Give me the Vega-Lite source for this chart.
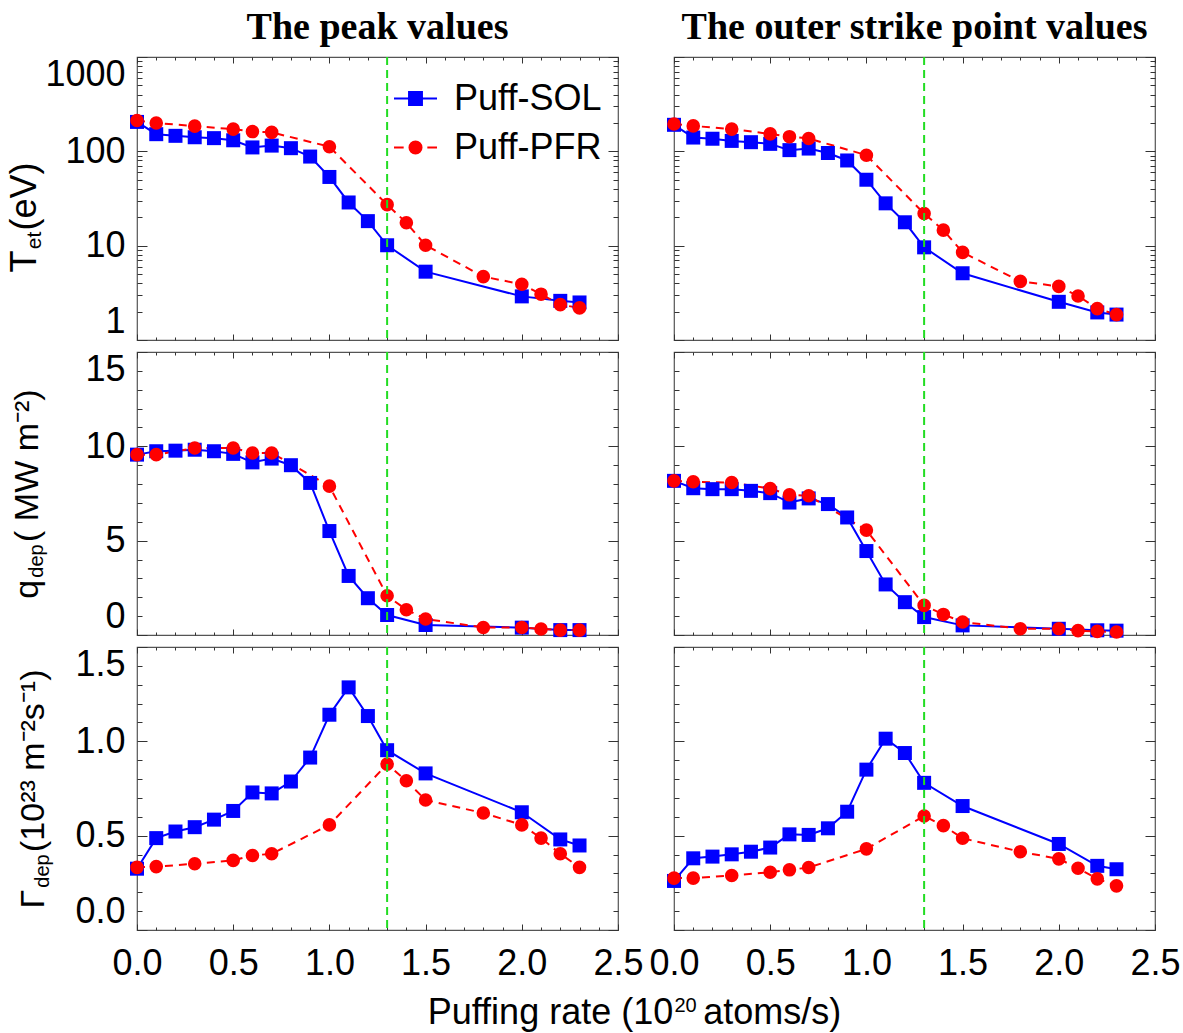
{
  "$schema": "https://vega.github.io/schema/vega-lite/v6.json",
  "background": "white",
  "padding": {"left": 5, "top": 8, "right": 5, "bottom": 5},
  "datasets": {
    "vline": [{"x": 1.3}],
    "Tpeak": [
      {"x":0,"s":"Puff-SOL","v":205},{"x":0.1,"s":"Puff-SOL","v":152},{"x":0.2,"s":"Puff-SOL","v":146},{"x":0.3,"s":"Puff-SOL","v":141},{"x":0.4,"s":"Puff-SOL","v":138},{"x":0.5,"s":"Puff-SOL","v":131},{"x":0.6,"s":"Puff-SOL","v":110},{"x":0.7,"s":"Puff-SOL","v":115},{"x":0.8,"s":"Puff-SOL","v":108},{"x":0.9,"s":"Puff-SOL","v":88},{"x":1.0,"s":"Puff-SOL","v":53.5},{"x":1.1,"s":"Puff-SOL","v":28.7},{"x":1.2,"s":"Puff-SOL","v":18.2},{"x":1.3,"s":"Puff-SOL","v":10.1},{"x":1.5,"s":"Puff-SOL","v":5.3},{"x":2.0,"s":"Puff-SOL","v":2.9},{"x":2.2,"s":"Puff-SOL","v":2.6},{"x":2.3,"s":"Puff-SOL","v":2.5},
      {"x":0,"s":"Puff-PFR","v":212},{"x":0.1,"s":"Puff-PFR","v":200},{"x":0.3,"s":"Puff-PFR","v":185},{"x":0.5,"s":"Puff-PFR","v":172},{"x":0.6,"s":"Puff-PFR","v":162},{"x":0.7,"s":"Puff-PFR","v":159},{"x":1.0,"s":"Puff-PFR","v":112},{"x":1.3,"s":"Puff-PFR","v":27.2},{"x":1.4,"s":"Puff-PFR","v":17.5},{"x":1.5,"s":"Puff-PFR","v":10.1},{"x":1.8,"s":"Puff-PFR","v":4.7},{"x":2.0,"s":"Puff-PFR","v":3.9},{"x":2.1,"s":"Puff-PFR","v":3.06},{"x":2.2,"s":"Puff-PFR","v":2.37},{"x":2.3,"s":"Puff-PFR","v":2.19}
    ],
    "Tosp": [
      {"x":0,"s":"Puff-SOL","v":191},{"x":0.1,"s":"Puff-SOL","v":140},{"x":0.2,"s":"Puff-SOL","v":136},{"x":0.3,"s":"Puff-SOL","v":129},{"x":0.4,"s":"Puff-SOL","v":125},{"x":0.5,"s":"Puff-SOL","v":120},{"x":0.6,"s":"Puff-SOL","v":103},{"x":0.7,"s":"Puff-SOL","v":107},{"x":0.8,"s":"Puff-SOL","v":96},{"x":0.9,"s":"Puff-SOL","v":80},{"x":1.0,"s":"Puff-SOL","v":50},{"x":1.1,"s":"Puff-SOL","v":28.1},{"x":1.2,"s":"Puff-SOL","v":17.7},{"x":1.3,"s":"Puff-SOL","v":9.6},{"x":1.5,"s":"Puff-SOL","v":5.1},{"x":2.0,"s":"Puff-SOL","v":2.54},{"x":2.2,"s":"Puff-SOL","v":1.96},{"x":2.3,"s":"Puff-SOL","v":1.86},
      {"x":0,"s":"Puff-PFR","v":195},{"x":0.1,"s":"Puff-PFR","v":186},{"x":0.3,"s":"Puff-PFR","v":172},{"x":0.5,"s":"Puff-PFR","v":153},{"x":0.6,"s":"Puff-PFR","v":143},{"x":0.7,"s":"Puff-PFR","v":137},{"x":1.0,"s":"Puff-PFR","v":91},{"x":1.3,"s":"Puff-PFR","v":21.9},{"x":1.4,"s":"Puff-PFR","v":14.6},{"x":1.5,"s":"Puff-PFR","v":8.5},{"x":1.8,"s":"Puff-PFR","v":4.18},{"x":2.0,"s":"Puff-PFR","v":3.7},{"x":2.1,"s":"Puff-PFR","v":2.93},{"x":2.2,"s":"Puff-PFR","v":2.15},{"x":2.3,"s":"Puff-PFR","v":1.86}
    ],
    "qpeak": [
      {"x":0,"s":"Puff-SOL","v":9.56},{"x":0.1,"s":"Puff-SOL","v":9.74},{"x":0.2,"s":"Puff-SOL","v":9.77},{"x":0.3,"s":"Puff-SOL","v":9.82},{"x":0.4,"s":"Puff-SOL","v":9.74},{"x":0.5,"s":"Puff-SOL","v":9.6},{"x":0.6,"s":"Puff-SOL","v":9.15},{"x":0.7,"s":"Puff-SOL","v":9.35},{"x":0.8,"s":"Puff-SOL","v":9.0},{"x":0.9,"s":"Puff-SOL","v":8.06},{"x":1.0,"s":"Puff-SOL","v":5.51},{"x":1.1,"s":"Puff-SOL","v":3.13},{"x":1.2,"s":"Puff-SOL","v":1.95},{"x":1.3,"s":"Puff-SOL","v":1.06},{"x":1.5,"s":"Puff-SOL","v":0.53},{"x":2.0,"s":"Puff-SOL","v":0.39},{"x":2.2,"s":"Puff-SOL","v":0.26},{"x":2.3,"s":"Puff-SOL","v":0.26},
      {"x":0,"s":"Puff-PFR","v":9.56},{"x":0.1,"s":"Puff-PFR","v":9.56},{"x":0.3,"s":"Puff-PFR","v":9.91},{"x":0.5,"s":"Puff-PFR","v":9.91},{"x":0.6,"s":"Puff-PFR","v":9.65},{"x":0.7,"s":"Puff-PFR","v":9.65},{"x":1.0,"s":"Puff-PFR","v":7.89},{"x":1.3,"s":"Puff-PFR","v":2.08},{"x":1.4,"s":"Puff-PFR","v":1.34},{"x":1.5,"s":"Puff-PFR","v":0.85},{"x":1.8,"s":"Puff-PFR","v":0.4},{"x":2.0,"s":"Puff-PFR","v":0.4},{"x":2.1,"s":"Puff-PFR","v":0.32},{"x":2.2,"s":"Puff-PFR","v":0.26},{"x":2.3,"s":"Puff-PFR","v":0.26}
    ],
    "qosp": [
      {"x":0,"s":"Puff-SOL","v":8.17},{"x":0.1,"s":"Puff-SOL","v":7.78},{"x":0.2,"s":"Puff-SOL","v":7.73},{"x":0.3,"s":"Puff-SOL","v":7.73},{"x":0.4,"s":"Puff-SOL","v":7.64},{"x":0.5,"s":"Puff-SOL","v":7.52},{"x":0.6,"s":"Puff-SOL","v":7.02},{"x":0.7,"s":"Puff-SOL","v":7.24},{"x":0.8,"s":"Puff-SOL","v":6.94},{"x":0.9,"s":"Puff-SOL","v":6.23},{"x":1.0,"s":"Puff-SOL","v":4.45},{"x":1.1,"s":"Puff-SOL","v":2.68},{"x":1.2,"s":"Puff-SOL","v":1.74},{"x":1.3,"s":"Puff-SOL","v":0.95},{"x":1.5,"s":"Puff-SOL","v":0.51},{"x":2.0,"s":"Puff-SOL","v":0.33},{"x":2.2,"s":"Puff-SOL","v":0.25},{"x":2.3,"s":"Puff-SOL","v":0.23},
      {"x":0,"s":"Puff-PFR","v":8.17},{"x":0.1,"s":"Puff-PFR","v":8.12},{"x":0.3,"s":"Puff-PFR","v":8.08},{"x":0.5,"s":"Puff-PFR","v":7.76},{"x":0.6,"s":"Puff-PFR","v":7.43},{"x":0.7,"s":"Puff-PFR","v":7.38},{"x":1.0,"s":"Puff-PFR","v":5.56},{"x":1.3,"s":"Puff-PFR","v":1.57},{"x":1.4,"s":"Puff-PFR","v":1.09},{"x":1.5,"s":"Puff-PFR","v":0.69},{"x":1.8,"s":"Puff-PFR","v":0.33},{"x":2.0,"s":"Puff-PFR","v":0.33},{"x":2.1,"s":"Puff-PFR","v":0.23},{"x":2.2,"s":"Puff-PFR","v":0.19},{"x":2.3,"s":"Puff-PFR","v":0.16}
    ],
    "Gpeak": [
      {"x":0,"s":"Puff-SOL","v":0.325},{"x":0.1,"s":"Puff-SOL","v":0.487},{"x":0.2,"s":"Puff-SOL","v":0.522},{"x":0.3,"s":"Puff-SOL","v":0.545},{"x":0.4,"s":"Puff-SOL","v":0.585},{"x":0.5,"s":"Puff-SOL","v":0.631},{"x":0.6,"s":"Puff-SOL","v":0.729},{"x":0.7,"s":"Puff-SOL","v":0.724},{"x":0.8,"s":"Puff-SOL","v":0.787},{"x":0.9,"s":"Puff-SOL","v":0.914},{"x":1.0,"s":"Puff-SOL","v":1.141},{"x":1.1,"s":"Puff-SOL","v":1.286},{"x":1.2,"s":"Puff-SOL","v":1.134},{"x":1.3,"s":"Puff-SOL","v":0.953},{"x":1.5,"s":"Puff-SOL","v":0.83},{"x":2.0,"s":"Puff-SOL","v":0.624},{"x":2.2,"s":"Puff-SOL","v":0.48},{"x":2.3,"s":"Puff-SOL","v":0.448},
      {"x":0,"s":"Puff-PFR","v":0.332},{"x":0.1,"s":"Puff-PFR","v":0.336},{"x":0.3,"s":"Puff-PFR","v":0.351},{"x":0.5,"s":"Puff-PFR","v":0.369},{"x":0.6,"s":"Puff-PFR","v":0.395},{"x":0.7,"s":"Puff-PFR","v":0.404},{"x":1.0,"s":"Puff-PFR","v":0.557},{"x":1.3,"s":"Puff-PFR","v":0.879},{"x":1.4,"s":"Puff-PFR","v":0.791},{"x":1.5,"s":"Puff-PFR","v":0.689},{"x":1.8,"s":"Puff-PFR","v":0.62},{"x":2.0,"s":"Puff-PFR","v":0.557},{"x":2.1,"s":"Puff-PFR","v":0.487},{"x":2.2,"s":"Puff-PFR","v":0.404},{"x":2.3,"s":"Puff-PFR","v":0.332}
    ],
    "Gosp": [
      {"x":0,"s":"Puff-SOL","v":0.26},{"x":0.1,"s":"Puff-SOL","v":0.38},{"x":0.2,"s":"Puff-SOL","v":0.389},{"x":0.3,"s":"Puff-SOL","v":0.401},{"x":0.4,"s":"Puff-SOL","v":0.415},{"x":0.5,"s":"Puff-SOL","v":0.437},{"x":0.6,"s":"Puff-SOL","v":0.507},{"x":0.7,"s":"Puff-SOL","v":0.504},{"x":0.8,"s":"Puff-SOL","v":0.539},{"x":0.9,"s":"Puff-SOL","v":0.627},{"x":1.0,"s":"Puff-SOL","v":0.85},{"x":1.1,"s":"Puff-SOL","v":1.014},{"x":1.2,"s":"Puff-SOL","v":0.938},{"x":1.3,"s":"Puff-SOL","v":0.78},{"x":1.5,"s":"Puff-SOL","v":0.657},{"x":2.0,"s":"Puff-SOL","v":0.456},{"x":2.2,"s":"Puff-SOL","v":0.34},{"x":2.3,"s":"Puff-SOL","v":0.322},
      {"x":0,"s":"Puff-PFR","v":0.275},{"x":0.1,"s":"Puff-PFR","v":0.275},{"x":0.3,"s":"Puff-PFR","v":0.289},{"x":0.5,"s":"Puff-PFR","v":0.306},{"x":0.6,"s":"Puff-PFR","v":0.319},{"x":0.7,"s":"Puff-PFR","v":0.331},{"x":1.0,"s":"Puff-PFR","v":0.43},{"x":1.3,"s":"Puff-PFR","v":0.604},{"x":1.4,"s":"Puff-PFR","v":0.553},{"x":1.5,"s":"Puff-PFR","v":0.486},{"x":1.8,"s":"Puff-PFR","v":0.415},{"x":2.0,"s":"Puff-PFR","v":0.377},{"x":2.1,"s":"Puff-PFR","v":0.327},{"x":2.2,"s":"Puff-PFR","v":0.271},{"x":2.3,"s":"Puff-PFR","v":0.234}
    ]
  },
  "columns": 2,
  "spacing": {"row": 12, "column": 56},
  "bounds": "flush",
  "resolve": {"scale": {"shape": "independent", "fill": "independent", "stroke": "independent"}, "legend": {"shape": "independent", "fill": "independent", "stroke": "independent"}},
  "concat": [
    {
      "width": 481, "height": 283,
      "title": {"text": "The peak values", "font": "Liberation Serif", "fontSize": 38, "fontWeight": "bold", "color": "#000", "anchor": "middle", "frame": "group", "offset": 9},
      "data": {"name": "Tpeak"},
      "layer": [
        {"transform": [{"filter": "datum.s === 'Puff-SOL'"}], "mark": {"type": "line", "color": "#0000ff", "strokeWidth": 2},
         "encoding": {"x": {"field": "x", "type": "quantitative", "scale": {"domain": [0, 2.5], "nice": false}, "axis": {"orient": "bottom", "values": [0,0.5,1,1.5,2,2.5], "labels": false, "tickSize": -6, "title": null}},
                      "y": {"field": "v", "type": "quantitative", "scale": {"type": "log", "domain": [1, 1000], "nice": false}, "axis": {"orient": "left", "values": [1,10,100,1000], "format": "d", "tickSize": -10, "labelPadding": 22, "labelFlush": true, "title": "T\u00a0\u00a0(eV)", "titleFontSize": 36, "titleX": -102, "titleY": 160, "titleBaseline": "alphabetic", "titleAngle": -90}}}},
        {"transform": [{"filter": "datum.s === 'Puff-PFR'"}], "mark": {"type": "line", "color": "#ff0000", "strokeWidth": 2, "strokeDash": [8, 6]},
         "encoding": {"x": {"field": "x", "type": "quantitative", "axis": {"orient": "top", "values": [0,0.5,1,1.5,2,2.5], "labels": false, "tickSize": -6, "title": null}},
                      "y": {"field": "v", "type": "quantitative", "axis": {"orient": "right", "values": [1,10,100,1000], "labels": false, "tickSize": -10, "title": null}}}},
        {"transform": [{"filter": "datum.s === 'Puff-SOL'"}], "mark": {"type": "point", "shape": "square", "filled": true, "color": "#0000ff", "size": 196, "opacity": 1},
         "encoding": {"x": {"field": "x", "type": "quantitative", "axis": {"orient": "bottom", "values": [0.1,0.2,0.3,0.4,0.6,0.7,0.8,0.9,1.1,1.2,1.3,1.4,1.6,1.7,1.8,1.9,2.1,2.2,2.3,2.4], "labels": false, "tickSize": -3, "title": null}},
                      "y": {"field": "v", "type": "quantitative", "axis": {"orient": "left", "values": [2,3,4,5,6,7,8,9,20,30,40,50,60,70,80,90,200,300,400,500,600,700,800,900], "labels": false, "tickSize": -5, "title": "et", "titleFontSize": 21, "titleX": -97, "titleY": 183, "titleBaseline": "alphabetic", "titleAngle": -90}}}},
        {"transform": [{"filter": "datum.s === 'Puff-PFR'"}], "mark": {"type": "point", "shape": "circle", "filled": true, "color": "#ff0000", "size": 185, "opacity": 1},
         "encoding": {"x": {"field": "x", "type": "quantitative", "axis": {"orient": "top", "values": [0.1,0.2,0.3,0.4,0.6,0.7,0.8,0.9,1.1,1.2,1.3,1.4,1.6,1.7,1.8,1.9,2.1,2.2,2.3,2.4], "labels": false, "tickSize": -3, "title": null}},
                      "y": {"field": "v", "type": "quantitative", "axis": {"orient": "right", "values": [2,3,4,5,6,7,8,9,20,30,40,50,60,70,80,90,200,300,400,500,600,700,800,900], "labels": false, "tickSize": -5, "title": null}}}},
        {"data": {"name": "vline"}, "mark": {"type": "rule", "color": "#22dd22", "strokeWidth": 2, "strokeDash": [8, 5]},
         "encoding": {"x": {"field": "x", "type": "quantitative", "axis": null}}},
        {"transform": [{"filter": "false"}], "mark": {"type": "point", "filled": true, "opacity": 1},
         "encoding": {"x": {"field": "x", "type": "quantitative", "axis": null}, "y": {"field": "v", "type": "quantitative", "axis": null},
           "shape": {"field": "s", "type": "nominal", "scale": {"domain": ["Puff-SOL", "Puff-PFR"], "range": ["M-1,0H1M-0.3,-0.3H0.3V0.3H-0.3Z", "M-1,0H-0.55M0.55,0H1M-0.28,0A0.28,0.28,0,1,1,0.28,0A0.28,0.28,0,1,1,-0.28,0Z"]},
                     "legend": {"title": null, "orient": "none", "legendX": 256, "legendY": 19, "symbolSize": 1849, "symbolStrokeWidth": 2, "labelFont": "Liberation Sans", "labelFontSize": 36, "labelColor": "#000", "labelOffset": 16, "rowPadding": 8, "padding": 0, "labelLimit": 0}},
           "fill": {"field": "s", "type": "nominal", "scale": {"domain": ["Puff-SOL", "Puff-PFR"], "range": ["#0000ff", "#ff0000"]},
                     "legend": {"title": null, "orient": "none", "legendX": 256, "legendY": 19, "symbolSize": 1849, "symbolStrokeWidth": 2, "labelFont": "Liberation Sans", "labelFontSize": 36, "labelColor": "#000", "labelOffset": 16, "rowPadding": 8, "padding": 0, "labelLimit": 0}},
           "stroke": {"field": "s", "type": "nominal", "scale": {"domain": ["Puff-SOL", "Puff-PFR"], "range": ["#0000ff", "#ff0000"]},
                     "legend": {"title": null, "orient": "none", "legendX": 256, "legendY": 19, "symbolSize": 1849, "symbolStrokeWidth": 2, "labelFont": "Liberation Sans", "labelFontSize": 36, "labelColor": "#000", "labelOffset": 16, "rowPadding": 8, "padding": 0, "labelLimit": 0}}}}
      ],
      "resolve": {"axis": {"x": "independent", "y": "independent"}}
    },
    {
      "width": 481, "height": 283,
      "title": {"text": "The outer strike point values", "font": "Liberation Serif", "fontSize": 38, "fontWeight": "bold", "color": "#000", "anchor": "middle", "frame": "group", "offset": 9},
      "data": {"name": "Tosp"},
      "layer": [
        {"transform": [{"filter": "datum.s === 'Puff-SOL'"}], "mark": {"type": "line", "color": "#0000ff", "strokeWidth": 2},
         "encoding": {"x": {"field": "x", "type": "quantitative", "scale": {"domain": [0, 2.5], "nice": false}, "axis": {"orient": "bottom", "values": [0,0.5,1,1.5,2,2.5], "labels": false, "tickSize": -6, "title": null}},
                      "y": {"field": "v", "type": "quantitative", "scale": {"type": "log", "domain": [1, 1000], "nice": false}, "axis": {"orient": "left", "values": [1,10,100,1000], "labels": false, "tickSize": -10, "title": null}}}},
        {"transform": [{"filter": "datum.s === 'Puff-PFR'"}], "mark": {"type": "line", "color": "#ff0000", "strokeWidth": 2, "strokeDash": [8, 6]},
         "encoding": {"x": {"field": "x", "type": "quantitative", "axis": {"orient": "top", "values": [0,0.5,1,1.5,2,2.5], "labels": false, "tickSize": -6, "title": null}},
                      "y": {"field": "v", "type": "quantitative", "axis": {"orient": "right", "values": [1,10,100,1000], "labels": false, "tickSize": -10, "title": null}}}},
        {"transform": [{"filter": "datum.s === 'Puff-SOL'"}], "mark": {"type": "point", "shape": "square", "filled": true, "color": "#0000ff", "size": 196, "opacity": 1},
         "encoding": {"x": {"field": "x", "type": "quantitative", "axis": {"orient": "bottom", "values": [0.1,0.2,0.3,0.4,0.6,0.7,0.8,0.9,1.1,1.2,1.3,1.4,1.6,1.7,1.8,1.9,2.1,2.2,2.3,2.4], "labels": false, "tickSize": -3, "title": null}},
                      "y": {"field": "v", "type": "quantitative", "axis": {"orient": "left", "values": [2,3,4,5,6,7,8,9,20,30,40,50,60,70,80,90,200,300,400,500,600,700,800,900], "labels": false, "tickSize": -5, "title": null}}}},
        {"transform": [{"filter": "datum.s === 'Puff-PFR'"}], "mark": {"type": "point", "shape": "circle", "filled": true, "color": "#ff0000", "size": 185, "opacity": 1},
         "encoding": {"x": {"field": "x", "type": "quantitative", "axis": {"orient": "top", "values": [0.1,0.2,0.3,0.4,0.6,0.7,0.8,0.9,1.1,1.2,1.3,1.4,1.6,1.7,1.8,1.9,2.1,2.2,2.3,2.4], "labels": false, "tickSize": -3, "title": null}},
                      "y": {"field": "v", "type": "quantitative", "axis": {"orient": "right", "values": [2,3,4,5,6,7,8,9,20,30,40,50,60,70,80,90,200,300,400,500,600,700,800,900], "labels": false, "tickSize": -5, "title": null}}}},
        {"data": {"name": "vline"}, "mark": {"type": "rule", "color": "#22dd22", "strokeWidth": 2, "strokeDash": [8, 5]},
         "encoding": {"x": {"field": "x", "type": "quantitative", "axis": null}}}
      ],
      "resolve": {"axis": {"x": "independent", "y": "independent"}}
    },
    {
      "width": 481, "height": 283,
      "data": {"name": "qpeak"},
      "layer": [
        {"transform": [{"filter": "datum.s === 'Puff-SOL'"}], "mark": {"type": "line", "color": "#0000ff", "strokeWidth": 2},
         "encoding": {"x": {"field": "x", "type": "quantitative", "scale": {"domain": [0, 2.5], "nice": false}, "axis": {"orient": "bottom", "values": [0,0.5,1,1.5,2,2.5], "labels": false, "tickSize": -6, "title": null}},
                      "y": {"field": "v", "type": "quantitative", "scale": {"domain": [0, 15], "nice": false, "zero": false}, "axis": {"orient": "left", "values": [0,5,10,15], "format": "d", "tickSize": -10, "labelPadding": 22, "labelFlush": true, "title": "q\u00a0\u00a0\u00a0\u00a0( MW m⁻²)", "titleX": -100, "titleBaseline": "alphabetic", "titleAngle": -90}}}},
        {"transform": [{"filter": "datum.s === 'Puff-PFR'"}], "mark": {"type": "line", "color": "#ff0000", "strokeWidth": 2, "strokeDash": [8, 6]},
         "encoding": {"x": {"field": "x", "type": "quantitative", "axis": {"orient": "top", "values": [0,0.5,1,1.5,2,2.5], "labels": false, "tickSize": -6, "title": null}},
                      "y": {"field": "v", "type": "quantitative", "axis": {"orient": "right", "values": [0,5,10,15], "labels": false, "tickSize": -10, "title": null}}}},
        {"transform": [{"filter": "datum.s === 'Puff-SOL'"}], "mark": {"type": "point", "shape": "square", "filled": true, "color": "#0000ff", "size": 196, "opacity": 1},
         "encoding": {"x": {"field": "x", "type": "quantitative", "axis": {"orient": "bottom", "values": [0.1,0.2,0.3,0.4,0.6,0.7,0.8,0.9,1.1,1.2,1.3,1.4,1.6,1.7,1.8,1.9,2.1,2.2,2.3,2.4], "labels": false, "tickSize": -3, "title": null}},
                      "y": {"field": "v", "type": "quantitative", "axis": {"orient": "left", "values": [1,2,3,4,6,7,8,9,11,12,13,14], "labels": false, "tickSize": -5, "title": "dep", "titleFontSize": 20, "titleX": -95, "titleY": 208.5, "titleBaseline": "alphabetic", "titleAngle": -90}}}},
        {"transform": [{"filter": "datum.s === 'Puff-PFR'"}], "mark": {"type": "point", "shape": "circle", "filled": true, "color": "#ff0000", "size": 185, "opacity": 1},
         "encoding": {"x": {"field": "x", "type": "quantitative", "axis": {"orient": "top", "values": [0.1,0.2,0.3,0.4,0.6,0.7,0.8,0.9,1.1,1.2,1.3,1.4,1.6,1.7,1.8,1.9,2.1,2.2,2.3,2.4], "labels": false, "tickSize": -3, "title": null}},
                      "y": {"field": "v", "type": "quantitative", "axis": {"orient": "right", "values": [1,2,3,4,6,7,8,9,11,12,13,14], "labels": false, "tickSize": -5, "title": null}}}},
        {"data": {"name": "vline"}, "mark": {"type": "rule", "color": "#22dd22", "strokeWidth": 2, "strokeDash": [8, 5]},
         "encoding": {"x": {"field": "x", "type": "quantitative", "axis": null}}}
      ],
      "resolve": {"axis": {"x": "independent", "y": "independent"}}
    },
    {
      "width": 481, "height": 283,
      "data": {"name": "qosp"},
      "layer": [
        {"transform": [{"filter": "datum.s === 'Puff-SOL'"}], "mark": {"type": "line", "color": "#0000ff", "strokeWidth": 2},
         "encoding": {"x": {"field": "x", "type": "quantitative", "scale": {"domain": [0, 2.5], "nice": false}, "axis": {"orient": "bottom", "values": [0,0.5,1,1.5,2,2.5], "labels": false, "tickSize": -6, "title": null}},
                      "y": {"field": "v", "type": "quantitative", "scale": {"domain": [0, 15], "nice": false, "zero": false}, "axis": {"orient": "left", "values": [0,5,10,15], "labels": false, "tickSize": -10, "title": null}}}},
        {"transform": [{"filter": "datum.s === 'Puff-PFR'"}], "mark": {"type": "line", "color": "#ff0000", "strokeWidth": 2, "strokeDash": [8, 6]},
         "encoding": {"x": {"field": "x", "type": "quantitative", "axis": {"orient": "top", "values": [0,0.5,1,1.5,2,2.5], "labels": false, "tickSize": -6, "title": null}},
                      "y": {"field": "v", "type": "quantitative", "axis": {"orient": "right", "values": [0,5,10,15], "labels": false, "tickSize": -10, "title": null}}}},
        {"transform": [{"filter": "datum.s === 'Puff-SOL'"}], "mark": {"type": "point", "shape": "square", "filled": true, "color": "#0000ff", "size": 196, "opacity": 1},
         "encoding": {"x": {"field": "x", "type": "quantitative", "axis": {"orient": "bottom", "values": [0.1,0.2,0.3,0.4,0.6,0.7,0.8,0.9,1.1,1.2,1.3,1.4,1.6,1.7,1.8,1.9,2.1,2.2,2.3,2.4], "labels": false, "tickSize": -3, "title": null}},
                      "y": {"field": "v", "type": "quantitative", "axis": {"orient": "left", "values": [1,2,3,4,6,7,8,9,11,12,13,14], "labels": false, "tickSize": -5, "title": null}}}},
        {"transform": [{"filter": "datum.s === 'Puff-PFR'"}], "mark": {"type": "point", "shape": "circle", "filled": true, "color": "#ff0000", "size": 185, "opacity": 1},
         "encoding": {"x": {"field": "x", "type": "quantitative", "axis": {"orient": "top", "values": [0.1,0.2,0.3,0.4,0.6,0.7,0.8,0.9,1.1,1.2,1.3,1.4,1.6,1.7,1.8,1.9,2.1,2.2,2.3,2.4], "labels": false, "tickSize": -3, "title": null}},
                      "y": {"field": "v", "type": "quantitative", "axis": {"orient": "right", "values": [1,2,3,4,6,7,8,9,11,12,13,14], "labels": false, "tickSize": -5, "title": null}}}},
        {"data": {"name": "vline"}, "mark": {"type": "rule", "color": "#22dd22", "strokeWidth": 2, "strokeDash": [8, 5]},
         "encoding": {"x": {"field": "x", "type": "quantitative", "axis": null}}}
      ],
      "resolve": {"axis": {"x": "independent", "y": "independent"}}
    },
    {
      "width": 481, "height": 283,
      "data": {"name": "Gpeak"},
      "layer": [
        {"transform": [{"filter": "datum.s === 'Puff-SOL'"}], "mark": {"type": "line", "color": "#0000ff", "strokeWidth": 2},
         "encoding": {"x": {"field": "x", "type": "quantitative", "scale": {"domain": [0, 2.5], "nice": false}, "axis": {"orient": "bottom", "values": [0,0.5,1,1.5,2,2.5], "format": ".1f", "tickSize": -6, "labelPadding": 22, "labelFlush": false, "title": "Puffing rate (10\u00a0\u00a0\u00a0atoms/s)", "titleX": 497, "titleY": 93, "titleBaseline": "alphabetic", "titleFontSize": 36}},
                      "y": {"field": "v", "type": "quantitative", "scale": {"domain": [0, 1.5], "nice": false, "zero": false}, "axis": {"orient": "left", "values": [0,0.5,1,1.5], "format": ".1f", "tickSize": -10, "labelPadding": 22, "labelFlush": true, "title": "Γ\u00a0\u00a0\u00a0\u00a0(10²³ m⁻²s⁻¹)", "titleX": -94, "titleBaseline": "alphabetic", "titleAngle": -90}}}},
        {"transform": [{"filter": "datum.s === 'Puff-PFR'"}], "mark": {"type": "line", "color": "#ff0000", "strokeWidth": 2, "strokeDash": [8, 6]},
         "encoding": {"x": {"field": "x", "type": "quantitative", "axis": {"orient": "top", "values": [0,0.5,1,1.5,2,2.5], "labels": false, "tickSize": -6, "title": null}},
                      "y": {"field": "v", "type": "quantitative", "axis": {"orient": "right", "values": [0,0.5,1,1.5], "labels": false, "tickSize": -10, "title": null}}}},
        {"transform": [{"filter": "datum.s === 'Puff-SOL'"}], "mark": {"type": "point", "shape": "square", "filled": true, "color": "#0000ff", "size": 196, "opacity": 1},
         "encoding": {"x": {"field": "x", "type": "quantitative", "axis": {"orient": "bottom", "values": [0.1,0.2,0.3,0.4,0.6,0.7,0.8,0.9,1.1,1.2,1.3,1.4,1.6,1.7,1.8,1.9,2.1,2.2,2.3,2.4], "labels": false, "tickSize": -3, "title": "20", "titleFontSize": 20, "titleX": 548, "titleY": 81, "titleBaseline": "alphabetic"}},
                      "y": {"field": "v", "type": "quantitative", "axis": {"orient": "left", "values": [0.1,0.2,0.3,0.4,0.6,0.7,0.8,0.9,1.1,1.2,1.3,1.4], "labels": false, "tickSize": -5, "title": "dep", "titleFontSize": 20, "titleX": -89, "titleY": 223.5, "titleBaseline": "alphabetic", "titleAngle": -90}}}},
        {"transform": [{"filter": "datum.s === 'Puff-PFR'"}], "mark": {"type": "point", "shape": "circle", "filled": true, "color": "#ff0000", "size": 185, "opacity": 1},
         "encoding": {"x": {"field": "x", "type": "quantitative", "axis": {"orient": "top", "values": [0.1,0.2,0.3,0.4,0.6,0.7,0.8,0.9,1.1,1.2,1.3,1.4,1.6,1.7,1.8,1.9,2.1,2.2,2.3,2.4], "labels": false, "tickSize": -3, "title": null}},
                      "y": {"field": "v", "type": "quantitative", "axis": {"orient": "right", "values": [0.1,0.2,0.3,0.4,0.6,0.7,0.8,0.9,1.1,1.2,1.3,1.4], "labels": false, "tickSize": -5, "title": null}}}},
        {"data": {"name": "vline"}, "mark": {"type": "rule", "color": "#22dd22", "strokeWidth": 2, "strokeDash": [8, 5]},
         "encoding": {"x": {"field": "x", "type": "quantitative", "axis": null}}}
      ],
      "resolve": {"axis": {"x": "independent", "y": "independent"}}
    },
    {
      "width": 481, "height": 283,
      "data": {"name": "Gosp"},
      "layer": [
        {"transform": [{"filter": "datum.s === 'Puff-SOL'"}], "mark": {"type": "line", "color": "#0000ff", "strokeWidth": 2},
         "encoding": {"x": {"field": "x", "type": "quantitative", "scale": {"domain": [0, 2.5], "nice": false}, "axis": {"orient": "bottom", "values": [0,0.5,1,1.5,2,2.5], "format": ".1f", "tickSize": -6, "labelPadding": 22, "labelFlush": false, "title": null}},
                      "y": {"field": "v", "type": "quantitative", "scale": {"domain": [0, 1.5], "nice": false, "zero": false}, "axis": {"orient": "left", "values": [0,0.5,1,1.5], "labels": false, "tickSize": -10, "title": null}}}},
        {"transform": [{"filter": "datum.s === 'Puff-PFR'"}], "mark": {"type": "line", "color": "#ff0000", "strokeWidth": 2, "strokeDash": [8, 6]},
         "encoding": {"x": {"field": "x", "type": "quantitative", "axis": {"orient": "top", "values": [0,0.5,1,1.5,2,2.5], "labels": false, "tickSize": -6, "title": null}},
                      "y": {"field": "v", "type": "quantitative", "axis": {"orient": "right", "values": [0,0.5,1,1.5], "labels": false, "tickSize": -10, "title": null}}}},
        {"transform": [{"filter": "datum.s === 'Puff-SOL'"}], "mark": {"type": "point", "shape": "square", "filled": true, "color": "#0000ff", "size": 196, "opacity": 1},
         "encoding": {"x": {"field": "x", "type": "quantitative", "axis": {"orient": "bottom", "values": [0.1,0.2,0.3,0.4,0.6,0.7,0.8,0.9,1.1,1.2,1.3,1.4,1.6,1.7,1.8,1.9,2.1,2.2,2.3,2.4], "labels": false, "tickSize": -3, "title": null}},
                      "y": {"field": "v", "type": "quantitative", "axis": {"orient": "left", "values": [0.1,0.2,0.3,0.4,0.6,0.7,0.8,0.9,1.1,1.2,1.3,1.4], "labels": false, "tickSize": -5, "title": null}}}},
        {"transform": [{"filter": "datum.s === 'Puff-PFR'"}], "mark": {"type": "point", "shape": "circle", "filled": true, "color": "#ff0000", "size": 185, "opacity": 1},
         "encoding": {"x": {"field": "x", "type": "quantitative", "axis": {"orient": "top", "values": [0.1,0.2,0.3,0.4,0.6,0.7,0.8,0.9,1.1,1.2,1.3,1.4,1.6,1.7,1.8,1.9,2.1,2.2,2.3,2.4], "labels": false, "tickSize": -3, "title": null}},
                      "y": {"field": "v", "type": "quantitative", "axis": {"orient": "right", "values": [0.1,0.2,0.3,0.4,0.6,0.7,0.8,0.9,1.1,1.2,1.3,1.4], "labels": false, "tickSize": -5, "title": null}}}},
        {"data": {"name": "vline"}, "mark": {"type": "rule", "color": "#22dd22", "strokeWidth": 2, "strokeDash": [8, 5]},
         "encoding": {"x": {"field": "x", "type": "quantitative", "axis": null}}}
      ],
      "resolve": {"axis": {"x": "independent", "y": "independent"}}
    }
  ],
  "config": {
    "view": {"stroke": "#555555", "strokeWidth": 1.2},
    "axis": {"grid": false, "domain": false, "tickColor": "#333333", "tickWidth": 1, "labelFont": "Liberation Sans", "labelFontSize": 36, "labelColor": "#000000", "titleFont": "Liberation Sans", "titleFontSize": 34, "titleFontWeight": "normal", "titleColor": "#000000", "labelOverlap": false}
  }
}
